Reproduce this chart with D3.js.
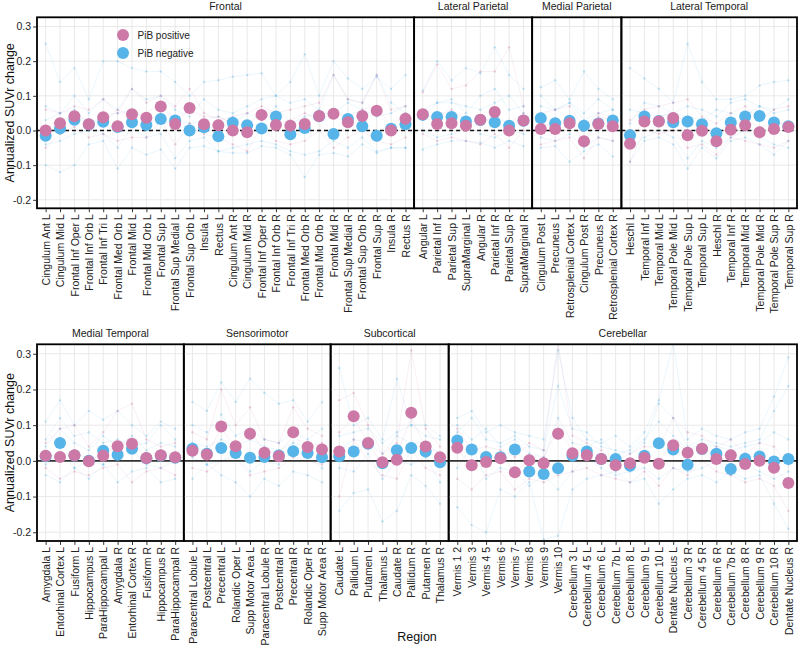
<!DOCTYPE html>
<html><head><meta charset="utf-8">
<script src="https://cdn.jsdelivr.net/npm/d3@7"></script>
<style>
body{margin:0;background:#fff}
text{font-family:"Liberation Sans", Arial, Helvetica, sans-serif}
</style>
</head><body>
<svg id="chart" width="800" height="646"></svg>
<script>
// ---------------- DATA ----------------
const topFacets = ["Frontal", "Lateral Parietal", "Medial Parietal", "Lateral Temporal"];
const bottomFacets = ["Medial Temporal", "Sensorimotor", "Subcortical", "Cerebellar"];

const frontalRegions = ["Cingulum Ant L","Cingulum Mid L","Frontal Inf Oper L","Frontal Inf Orb L","Frontal Inf Tri L","Frontal Med Orb L","Frontal Mid L","Frontal Mid Orb L","Frontal Sup L","Frontal Sup Medial L","Frontal Sup Orb L","Insula L","Rectus L","Cingulum Ant R","Cingulum Mid R","Frontal Inf Oper R","Frontal Inf Orb R","Frontal Inf Tri R","Frontal Med Orb R","Frontal Mid Orb R","Frontal Mid R","Frontal Sup Medial R","Frontal Sup Orb R","Frontal Sup R","Insula R","Rectus R"];
const latParietalRegions = ["Angular L","Parietal Inf L","Parietal Sup L","SupraMarginal L","Angular R","Parietal Inf R","Parietal Sup R","SupraMarginal R"];
const medParietalRegions = ["Cingulum Post L","Precuneus L","Retrosplenial Cortex L","Cingulum Post R","Precuneus R","Retrosplenial Cortex R"];
const latTemporalRegions = ["Heschl L","Temporal Inf L","Temporal Mid L","Temporal Pole Mid L","Temporal Pole Sup L","Temporal Sup L","Heschl R","Temporal Inf R","Temporal Mid R","Temporal Pole Mid R","Temporal Pole Sup R","Temporal Sup R"];
const medTemporalRegions = ["Amygdala L","Entorhinal Cortex L","Fusiform L","Hippocampus L","ParaHippocampal L","Amygdala R","Entorhinal Cortex R","Fusiform R","Hippocampus R","ParaHippocampal R"];
const sensorimotorRegions = ["Paracentral Lobule L","Postcentral L","Precentral L","Rolandic Oper L","Supp Motor Area L","Paracentral Lobule R","Postcentral R","Precentral R","Rolandic Oper R","Supp Motor Area R"];
const subcorticalRegions = ["Caudate L","Pallidum L","Putamen L","Thalamus L","Caudate R","Pallidum R","Putamen R","Thalamus R"];
const cerebellarRegions = ["Vermis 1 2","Vermis 3","Vermis 4 5","Vermis 6","Vermis 7","Vermis 8","Vermis 9","Vermis 10","Cerebellum 3 L","Cerebellum 4 5 L","Cerebellum 6 L","Cerebellum 7b L","Cerebellum 8 L","Cerebellum 9 L","Cerebellum 10 L","Dentate Nucleus L","Cerebellum 3 R","Cerebellum 4 5 R","Cerebellum 6 R","Cerebellum 7b R","Cerebellum 8 R","Cerebellum 9 R","Cerebellum 10 R","Dentate Nucleus R"];

// group means: PiB positive / PiB negative
const frontalPos = [0.000,0.021,0.041,0.018,0.038,0.012,0.047,0.037,0.069,0.019,0.065,0.018,0.015,0.000,-0.005,0.045,0.016,0.014,0.019,0.042,0.048,0.024,0.042,0.057,0.000,0.034];
const frontalNeg = [-0.015,0.006,0.031,0.017,0.025,0.010,0.024,0.016,0.033,0.029,0.000,0.009,-0.017,0.022,0.015,0.006,0.040,-0.011,0.007,0.041,-0.010,0.033,0.012,-0.015,0.005,0.018];
const latParietalPos = [0.047,0.019,0.021,0.014,0.031,0.053,0.000,0.029];
const latParietalNeg = [0.045,0.039,0.039,0.026,0.030,0.024,0.014,0.028];
const medParietalPos = [0.004,0.004,0.021,-0.031,0.019,0.012];
const medParietalNeg = [0.035,0.021,0.028,0.014,0.020,0.029];
const latTemporalPos = [-0.038,0.026,0.026,0.036,-0.014,-0.001,-0.031,0.002,0.015,-0.005,0.004,0.010];
const latTemporalNeg = [-0.014,0.040,0.027,0.024,0.026,0.018,-0.008,0.023,0.040,0.042,0.023,0.012];
const medTemporalPos = [0.014,0.011,0.016,-0.001,0.014,0.041,0.048,0.008,0.016,0.010];
const medTemporalNeg = [0.013,0.050,0.015,0.000,0.028,0.017,0.034,0.007,0.014,0.009];
const sensorimotorPos = [0.028,0.018,0.096,0.041,0.076,0.023,0.013,0.080,0.039,0.032];
const sensorimotorNeg = [0.034,0.020,0.036,0.022,0.009,0.011,0.015,0.027,0.022,0.010];
const subcorticalPos = [0.026,0.125,0.050,-0.004,0.003,0.135,0.040,0.010];
const subcorticalNeg = [0.013,0.026,0.048,-0.007,0.030,0.036,0.026,-0.004];
const cerebellarPos = [0.037,-0.012,-0.003,0.007,-0.032,0.002,-0.007,0.076,0.021,0.016,0.005,-0.012,-0.007,0.009,-0.008,0.044,0.023,0.034,0.005,0.016,-0.009,0.000,-0.019,-0.062];
const cerebellarNeg = [0.057,0.032,0.011,0.010,0.032,-0.030,-0.037,-0.021,0.014,0.026,0.005,0.005,-0.014,0.014,0.049,0.032,-0.011,0.033,0.020,-0.023,0.006,0.012,-0.002,0.005];

// individual subjects (faint traces), values in region order: top row (52) then bottom row (52)
const negA = [0.25,0.14,0.18,0.09,0.20,0.20,0.18,0.17,0.17,0.14,0.10,0.14,0.145,0.155,0.16,0.165,0.10,0.14,0.22,0.10,0.20,0.15,0.12,0.155,0.12,0.16,
  0.115,0.20,0.145,0.18,0.165,0.24,0.16,0.12,
  0.125,0.145,0.09,0.17,0.12,0.09,
  0.18,0.15,0.12,0.08,0.25,0.14,0.09,0.09,0.10,0.13,0.14,0.145,
  0.11,0.17,0.10,0.14,0.115,0.14,0.10,0.07,0.11,0.09,
  0.165,0.14,0.22,0.165,0.23,0.19,0.16,0.17,0.11,0.165,
  0.26,0.10,0.12,0.06,0.23,0.10,0.10,0.07,
  0.12,0.14,0.08,0.10,0.08,0.07,0.06,0.31,0.12,0.06,0.05,0.07,0.04,0.08,0.17,0.33,0.06,0.09,0.07,0.06,0.08,0.09,0.18,0.29];
const negB = [-0.10,-0.12,-0.10,-0.04,-0.03,-0.11,-0.05,-0.07,-0.055,-0.11,-0.05,-0.045,-0.06,-0.065,-0.065,-0.045,-0.05,-0.07,-0.135,-0.07,-0.065,-0.075,-0.04,-0.065,-0.05,-0.05,
  -0.055,-0.04,-0.03,-0.03,-0.035,-0.05,-0.03,-0.045,
  -0.05,-0.045,-0.09,-0.06,-0.04,-0.075,
  -0.09,-0.03,-0.02,-0.04,-0.11,-0.05,-0.08,-0.03,-0.02,-0.04,-0.07,-0.03,
  -0.04,-0.06,-0.02,-0.05,-0.01,-0.06,-0.03,-0.02,-0.06,-0.05,
  -0.05,-0.01,-0.04,-0.06,-0.10,-0.05,-0.07,-0.03,-0.04,-0.06,
  -0.14,-0.09,-0.08,-0.17,-0.14,-0.04,-0.07,-0.12,
  -0.13,-0.18,-0.20,-0.08,-0.10,-0.06,-0.22,-0.21,-0.08,-0.05,-0.04,-0.03,-0.06,-0.05,-0.12,-0.08,-0.05,-0.04,-0.06,-0.03,-0.05,-0.04,-0.12,-0.19];
const negC = [0.07,0.05,0.10,0.05,0.09,0.06,0.12,0.09,0.10,0.06,0.04,0.09,0.06,0.05,0.07,0.09,0.10,0.08,0.09,0.06,0.16,0.09,0.08,0.16,0.08,0.05,
  0.06,0.08,0.08,0.07,0.06,0.08,0.10,0.05,
  0.07,0.06,0.08,0.03,0.05,0.06,
  0.06,0.05,0.04,0.05,0.07,0.06,0.04,0.08,0.09,0.07,0.06,0.09,
  0.06,0.12,0.07,0.08,0.05,0.06,0.04,0.05,0.10,0.06,
  0.10,0.08,0.13,0.07,0.09,0.06,0.05,0.08,0.06,0.09,
  0.07,0.08,0.09,0.05,0.08,0.10,0.07,0.06,
  0.08,0.12,0.06,0.05,0.07,0.04,0.03,0.21,0.09,0.08,0.04,0.03,0.02,0.05,0.16,0.12,0.04,0.06,0.05,0.04,0.05,0.06,0.14,0.21];
const negD = [-0.04,-0.03,-0.01,0.00,-0.01,-0.05,0.01,-0.02,-0.01,-0.08,-0.03,-0.02,-0.06,-0.05,-0.04,-0.03,-0.04,-0.06,-0.07,-0.06,-0.03,-0.05,-0.02,-0.06,-0.05,-0.05,
  0.00,-0.02,-0.01,0.01,-0.01,-0.02,0.00,-0.01,
  -0.02,-0.03,-0.01,-0.05,-0.02,-0.03,
  -0.05,-0.02,0.00,-0.02,-0.08,-0.03,-0.05,-0.02,0.00,-0.02,-0.04,-0.05,
  -0.01,0.02,-0.02,0.00,-0.01,0.02,0.03,-0.01,-0.02,0.00,
  0.01,-0.01,0.00,0.02,-0.03,0.00,-0.01,0.03,0.01,-0.02,
  -0.02,-0.03,0.02,-0.05,0.00,-0.01,0.01,-0.06,
  -0.02,0.04,-0.05,-0.02,-0.03,-0.07,-0.04,-0.08,-0.03,0.01,-0.02,-0.04,-0.03,-0.02,-0.05,-0.02,-0.03,-0.02,0.00,-0.04,-0.01,-0.03,-0.05,-0.03];
const negE = [0.03,0.05,0.06,0.02,0.04,0.05,0.06,0.03,0.02,0.03,0.02,0.03,0.04,0.02,0.05,0.03,0.07,0.02,0.04,0.05,0.05,0.08,0.06,0.04,0.05,0.07,
  0.04,0.08,0.09,0.05,0.10,0.12,0.06,0.07,
  0.10,0.06,0.08,0.05,0.09,0.06,
  0.02,0.08,0.07,0.05,0.04,0.03,0.06,0.05,0.04,0.07,0.05,0.06,
  0.04,0.09,0.05,0.03,0.07,0.04,0.07,0.03,0.05,0.04,
  0.05,0.04,0.06,0.04,0.06,0.04,0.03,0.05,0.04,0.03,
  0.03,0.06,0.05,0.02,0.07,0.05,0.05,0.02,
  0.10,0.06,0.09,0.04,0.06,0.02,0.01,0.12,0.05,0.04,0.06,0.02,0.03,0.06,0.11,0.07,0.03,0.05,0.04,0.03,0.04,0.05,0.08,0.06];
const posA = [0.06,0.05,0.07,0.06,0.09,0.05,0.12,0.08,0.10,0.07,0.12,0.05,0.03,0.04,0.05,0.07,0.05,0.06,0.07,0.08,0.16,0.09,0.08,0.16,0.06,0.07,
  0.11,0.19,0.12,0.13,0.17,0.17,0.24,0.07,
  0.05,0.06,0.07,0.01,0.05,0.04,
  0.03,0.06,0.07,0.08,0.09,0.04,0.02,0.05,0.07,0.03,0.06,0.07,
  0.05,0.09,0.10,0.04,0.08,0.14,0.16,0.06,0.04,0.05,
  0.08,0.06,0.20,0.10,0.15,0.06,0.05,0.15,0.09,0.07,
  0.17,0.19,0.10,0.02,0.05,0.31,0.09,0.04,
  0.09,0.03,0.04,0.03,0.01,0.05,0.03,0.33,0.07,0.05,0.03,0.00,0.02,0.04,0.04,0.12,0.08,0.07,0.04,0.06,0.02,0.05,0.04,-0.01];
const posB = [-0.05,-0.01,0.01,-0.02,-0.01,-0.03,-0.02,-0.02,0.03,-0.04,0.02,-0.01,-0.02,-0.04,-0.06,0.01,-0.03,-0.04,-0.03,0.00,-0.05,-0.02,0.00,-0.03,-0.04,-0.02,
  -0.01,-0.03,-0.02,-0.03,-0.04,-0.01,-0.05,0.00,
  -0.04,-0.03,-0.02,-0.08,-0.02,-0.03,
  -0.09,0.00,-0.01,0.00,-0.05,-0.04,-0.07,-0.02,-0.03,-0.04,-0.05,-0.03,
  -0.02,-0.05,-0.03,-0.04,-0.02,-0.01,-0.06,-0.03,-0.02,-0.04,
  -0.02,-0.03,0.00,0.01,-0.04,-0.03,-0.02,0.01,0.00,-0.01,
  -0.10,0.06,0.00,-0.04,-0.05,0.03,-0.02,-0.04,
  -0.05,-0.08,-0.04,-0.03,-0.08,-0.05,-0.06,-0.04,-0.03,-0.02,-0.04,-0.05,-0.06,-0.03,-0.07,-0.02,-0.04,0.00,-0.03,-0.04,-0.06,-0.05,-0.07,-0.14];
const posC = [0.01,0.03,0.04,0.03,0.02,0.06,0.04,0.05,0.08,0.03,0.06,0.04,0.04,0.02,0.01,0.06,0.02,0.03,0.05,0.03,0.05,0.04,0.06,0.07,0.01,0.05,
  0.04,0.04,0.06,0.03,0.02,0.04,0.02,0.05,
  0.02,0.01,0.04,-0.04,0.04,0.03,
  -0.03,0.03,0.04,0.05,0.02,0.01,-0.02,0.01,0.03,0.01,0.02,0.02,
  0.02,0.01,0.03,0.00,0.02,0.04,0.05,0.01,0.03,0.02,
  0.03,0.02,0.09,0.04,0.08,0.03,0.02,0.07,0.04,0.05,
  0.08,0.12,0.05,-0.01,0.02,0.12,0.04,0.02,
  0.03,-0.01,0.00,0.02,-0.03,0.00,0.01,0.09,0.03,0.03,0.01,-0.01,-0.01,0.02,0.00,0.05,0.03,0.04,0.01,0.02,-0.01,0.01,-0.02,-0.06];

const yTicks = [-0.2, -0.1, 0.0, 0.1, 0.2, 0.3];
const groupLabels = ["PiB positive", "PiB negative"];

// ---------------- BUILD ----------------
const COL_POS = "#CC79A7", COL_NEG = "#56B4E9";
const regionsOf = {"Frontal":frontalRegions,"Lateral Parietal":latParietalRegions,"Medial Parietal":medParietalRegions,"Lateral Temporal":latTemporalRegions,
  "Medial Temporal":medTemporalRegions,"Sensorimotor":sensorimotorRegions,"Subcortical":subcorticalRegions,"Cerebellar":cerebellarRegions};
const posOf = {"Frontal":frontalPos,"Lateral Parietal":latParietalPos,"Medial Parietal":medParietalPos,"Lateral Temporal":latTemporalPos,
  "Medial Temporal":medTemporalPos,"Sensorimotor":sensorimotorPos,"Subcortical":subcorticalPos,"Cerebellar":cerebellarPos};
const negOf = {"Frontal":frontalNeg,"Lateral Parietal":latParietalNeg,"Medial Parietal":medParietalNeg,"Lateral Temporal":latTemporalNeg,
  "Medial Temporal":medTemporalNeg,"Sensorimotor":sensorimotorNeg,"Subcortical":subcorticalNeg,"Cerebellar":cerebellarNeg};
const subjects = [
  {vals:negA,col:COL_NEG},{vals:negB,col:COL_NEG},{vals:negC,col:COL_NEG},{vals:negD,col:COL_NEG},{vals:negE,col:COL_NEG},
  {vals:posA,col:COL_POS},{vals:posB,col:COL_POS},{vals:posC,col:COL_POS}];

const svg = d3.select("#chart");
const X0 = 37, X1 = 797;
const rows = [
  {facets: topFacets, top: 17.3, bottom: 208.3, dashed: true, offset: 0, legend: true},
  {facets: bottomFacets, top: 344.3, bottom: 541, dashed: false, offset: 52, legend: false}
];

rows.forEach((row, ri) => {
  const y = d3.scaleLinear().domain([-0.2245, 0.3265]).range([row.bottom, row.top]);
  const units = d3.sum(row.facets, f => regionsOf[f].length + 0.2);
  let cum = 0, subjOffset = row.offset;
  row.facets.forEach((f, fi) => {
    const regs = regionsOf[f];
    const left = X0 + cum / units * (X1 - X0);
    cum += regs.length + 0.2;
    const right = X0 + cum / units * (X1 - X0);
    const x = d3.scalePoint().domain(regs).range([left, right]).padding(0.6);
    const clipId = `clip-${ri}-${fi}`;
    svg.append("clipPath").attr("id", clipId).append("rect")
      .attr("x", left).attr("y", row.top).attr("width", right - left).attr("height", row.bottom - row.top);
    const g = svg.append("g");
    const pg = g.append("g").attr("clip-path", `url(#${clipId})`);
    // grid
    pg.selectAll(".hg").data(yTicks).join("line")
      .attr("x1", left).attr("x2", right).attr("y1", d => y(d)).attr("y2", d => y(d))
      .attr("stroke", "#e6e6e6").attr("stroke-width", 0.9);
    pg.selectAll(".vg").data(regs).join("line")
      .attr("x1", d => x(d)).attr("x2", d => x(d)).attr("y1", row.top).attr("y2", row.bottom)
      .attr("stroke", "#e6e6e6").attr("stroke-width", 0.9);
    // subject traces
    const line = d3.line().x(d => x(d.r)).y(d => y(d.v));
    subjects.forEach(s => {
      const pts = regs.map((r, i) => ({r, v: s.vals[subjOffset + i]}));
      pg.append("path").datum(pts).attr("d", line).attr("fill", "none")
        .attr("stroke", s.col).attr("stroke-opacity", 0.17).attr("stroke-width", 0.7);
      pg.selectAll(null).data(pts).join("circle")
        .attr("cx", d => x(d.r)).attr("cy", d => y(d.v)).attr("r", 1.2)
        .attr("fill", s.col).attr("fill-opacity", 0.32);
    });
    // zero line
    pg.append("line").attr("x1", left).attr("x2", right).attr("y1", y(0)).attr("y2", y(0))
      .attr("stroke", row.dashed ? "#111" : "#333").attr("stroke-width", row.dashed ? 1.3 : 1.6)
      .attr("stroke-dasharray", row.dashed ? "4,3" : null);
    // means
    const neg = negOf[f], pos = posOf[f];
    pg.selectAll(null).data(regs).join("circle")
      .attr("cx", d => x(d)).attr("cy", (d, i) => y(neg[i])).attr("r", 6).attr("fill", COL_NEG);
    pg.selectAll(null).data(regs).join("circle")
      .attr("cx", d => x(d)).attr("cy", (d, i) => y(pos[i])).attr("r", 6).attr("fill", COL_POS);
    // border
    g.append("rect").attr("x", left).attr("y", row.top).attr("width", right - left).attr("height", row.bottom - row.top)
      .attr("fill", "none").attr("stroke", "#000").attr("stroke-width", 1.8);
    // strip title
    g.append("text").attr("x", (left + right) / 2).attr("y", row.top - 7.5)
      .attr("text-anchor", "middle").attr("font-size", 10.5).attr("fill", "#1a1a1a").text(f);
    // bottom axis
    const ax = g.append("g").attr("transform", `translate(0,${row.bottom + 0.9})`)
      .call(d3.axisBottom(x).tickSize(3).tickPadding(2));
    ax.select(".domain").remove();
    ax.selectAll(".tick line").attr("stroke", "#333");
    ax.selectAll(".tick text").attr("transform", "rotate(-90)").attr("x", -5).attr("y", 0)
      .attr("dy", "0.35em").attr("text-anchor", "end").attr("font-size", 10.5).attr("fill", "#222")
      .attr("font-family", "Liberation Sans, Arial, sans-serif");
    // left axis
    if (fi === 0) {
      const ay = g.append("g").attr("transform", `translate(${left - 0.9},0)`)
        .call(d3.axisLeft(y).tickValues(yTicks).tickFormat(d => d.toFixed(1)).tickSize(3).tickPadding(2));
      ay.select(".domain").remove();
      ay.selectAll(".tick line").attr("stroke", "#333");
      ay.selectAll(".tick text").attr("font-size", 10.5).attr("fill", "#222")
        .attr("font-family", "Liberation Sans, Arial, sans-serif");
      svg.append("text").attr("transform", `translate(14,${(row.top + row.bottom) / 2}) rotate(-90)`)
        .attr("text-anchor", "middle").attr("font-size", 12.5).attr("fill", "#111").text("Annualized SUVr change");
    }
    subjOffset += regs.length;
  });

  if (row.legend) {
    const lg = svg.append("g");
    [[COL_POS, groupLabels[0], 35], [COL_NEG, groupLabels[1], 53]].forEach(([c, t, yy]) => {
      lg.append("circle").attr("cx", 123).attr("cy", yy).attr("r", 6).attr("fill", c);
      lg.append("text").attr("x", 137.5).attr("y", yy + 3.6).attr("font-size", 10).attr("fill", "#222").text(t);
    });
  }
});

svg.append("text").attr("x", 417).attr("y", 641).attr("text-anchor", "middle")
  .attr("font-size", 12.5).attr("fill", "#111").text("Region");
</script>
</body></html>
